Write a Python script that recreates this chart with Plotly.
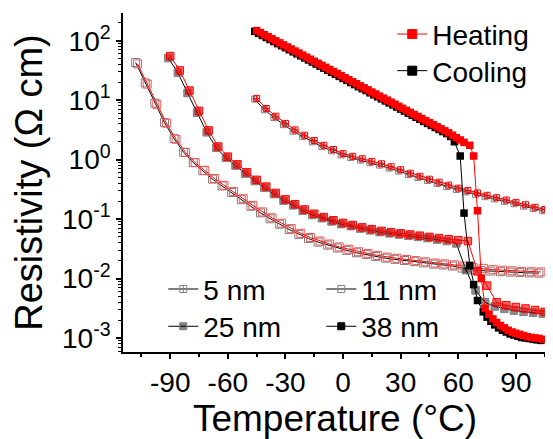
import plotly.graph_objects as go

# ---------------- data (temperature in °C, resistivity in Ω cm) ----------------
# 5 nm
T5_heat = [-45, -40, -35, -30, -25, -20, -15, -10, -5, 0, 5, 10, 15, 20, 25, 30, 35, 40, 45, 50,
           55, 60, 65, 70, 75, 80, 85, 90, 95, 100, 105]
R5_heat = [10.7, 7.24, 5.37, 4.07, 3.16, 2.57, 2.09, 1.74, 1.48, 1.26, 1.135, 1.035, 0.933, 0.851,
           0.759, 0.676, 0.589, 0.525, 0.468, 0.417, 0.372, 0.331, 0.302, 0.275, 0.251, 0.229,
           0.209, 0.191, 0.174, 0.158, 0.145]
T5_cool = [-46, -41, -36, -31, -26, -21, -16, -11, -6, -1, 4, 9, 14, 19, 24, 29, 34, 39, 44, 49,
           54, 59, 64, 69, 74, 79, 84, 89, 94, 99, 104]
R5_cool = [10.4, 6.9, 5.1, 3.87, 3.0, 2.44, 1.99, 1.65, 1.41, 1.2, 1.08, 0.98, 0.886, 0.808, 0.721,
           0.642, 0.56, 0.499, 0.445, 0.396, 0.353, 0.314, 0.287, 0.261, 0.238, 0.218, 0.199,
           0.181, 0.165, 0.150, 0.138]

# 11 nm
T11_heat = [-107, -102, -97, -92, -87, -82, -77, -72, -67, -62, -57, -52, -47, -42, -37, -32, -27,
            -22, -17, -12, -7, -2, 3, 8, 13, 18, 23, 28, 33, 38, 43, 48, 53, 58, 63, 68, 73, 78,
            83, 88, 93, 98, 103]
R11_heat = [40.7, 18.6, 8.5, 4.1, 2.2, 1.32, 0.89, 0.66, 0.48, 0.37, 0.29, 0.22, 0.17, 0.132, 0.105,
            0.085, 0.069, 0.0575, 0.049, 0.0427, 0.038, 0.034, 0.031, 0.0282, 0.0263, 0.0245,
            0.0229, 0.0219, 0.0209, 0.0200, 0.0191, 0.0182, 0.0176, 0.0170, 0.0162, 0.0151,
            0.0148, 0.0141, 0.0138, 0.0135, 0.0132, 0.0130, 0.0129]
T11_cool = [-108, -103, -98, -93, -88, -83, -78, -73, -68, -63, -58, -53, -48, -43, -38, -33, -28,
            -23, -18, -13, -8, -3, 2, 7, 12, 17, 22, 27, 32, 37, 42, 47, 52, 57, 62, 67, 72, 77,
            82, 87, 92, 97, 102]
R11_cool = [43, 19.5, 8.9, 4.2, 2.25, 1.33, 0.89, 0.65, 0.47, 0.36, 0.28, 0.212, 0.164, 0.127, 0.101,
            0.082, 0.0665, 0.0553, 0.047, 0.041, 0.0365, 0.0326, 0.0297, 0.0271, 0.0252, 0.0235,
            0.022, 0.021, 0.0201, 0.0192, 0.0183, 0.0175, 0.0169, 0.0162, 0.0150, 0.0140, 0.0136,
            0.0133, 0.0130, 0.0128, 0.0126, 0.0124, 0.0123]

# 25 nm
T25_heat = [-90, -85, -80, -75, -70, -65, -60, -55, -50, -45, -40, -35, -30, -25, -20, -15, -10,
            -5, 0, 5, 10, 15, 20, 25, 30, 35, 40, 45, 50, 55, 60, 65, 70, 75, 80, 85, 90, 95, 100,
            105]
R25_heat = [55.0, 31.6, 14.5, 6.6, 3.09, 1.66, 1.12, 0.832, 0.610, 0.457, 0.351, 0.275, 0.214,
            0.178, 0.145, 0.123, 0.108, 0.0955, 0.0861, 0.0794, 0.0724, 0.0676, 0.0631, 0.0603,
            0.0575, 0.0550, 0.0525, 0.0501, 0.0479, 0.0457, 0.0442, 0.0427, 0.0132, 0.00759,
            0.00398, 0.00355, 0.00331, 0.00313, 0.00295, 0.00275]
T25_cool = [-91, -86, -81, -76, -71, -66, -61, -56, -51, -46, -41, -36, -31, -26, -21, -16, -11,
            -6, -1, 4, 9, 14, 19, 24, 29, 34, 39, 44, 49, 54, 59, 64, 69, 74, 79, 84, 89, 94, 99,
            104]
R25_cool = [51, 28.8, 13.2, 6.17, 2.88, 1.58, 1.07, 0.794, 0.582, 0.437, 0.335, 0.263, 0.204, 0.170,
            0.138, 0.117, 0.1035, 0.0912, 0.0822, 0.0759, 0.0692, 0.0646, 0.0603, 0.0575, 0.0550,
            0.0525, 0.0501, 0.0479, 0.0452, 0.0427, 0.0389, 0.0138, 0.0063, 0.00398, 0.00339,
            0.00309, 0.00288, 0.00275, 0.00266, 0.00257]

# 38 nm
T38_heat = [-45, -43, -41, -39, -37, -35, -33, -31, -29, -27, -25, -23, -21, -19, -17, -15, -13,
            -11, -9, -7, -5, -3, -1, 1, 3, 5, 7, 9, 11, 13, 15, 17, 19, 21, 23, 25, 27, 29, 31,
            33, 35, 37, 39, 41, 43, 45, 47, 49, 51, 53, 55, 57, 59, 61, 63, 66, 68, 70, 72, 74,
            76, 78, 80, 82, 84, 86, 88, 90, 92, 94, 96, 98, 100, 102, 104]
R38_heat = [148, 137, 126, 117, 108, 99.5, 92, 85, 78.5, 72.4, 67, 62, 57.2, 52.8, 48.8, 45.1, 41.7,
            38.5, 35.6, 32.8, 30.3, 28.1, 25.9, 23.9, 22.1, 20.4, 18.9, 17.4, 16.1, 14.9, 13.7,
            12.7, 11.7, 10.8, 10.0, 9.25, 8.55, 7.89, 7.29, 6.73, 6.22, 5.75, 5.31, 4.91, 4.53,
            4.19, 3.87, 3.57, 3.30, 3.05, 2.82, 2.57, 2.34, 2.14, 1.95, 1.74, 1.15, 0.138, 0.010,
            0.00316, 0.00251, 0.00209, 0.00182, 0.00162, 0.00148, 0.00135, 0.00126, 0.00120,
            0.00115, 0.00110, 0.00105, 0.00102, 0.00100, 0.00098, 0.00095]
T38_cool = [-46, -44, -42, -40, -38, -36, -34, -32, -30, -28, -26, -24, -22, -20, -18, -16, -14,
            -12, -10, -8, -6, -4, -2, 0, 2, 4, 6, 8, 10, 12, 14, 16, 18, 20, 22, 24, 26, 28, 30,
            32, 34, 36, 38, 40, 42, 44, 46, 48, 50, 52, 54, 56, 58, 61, 63, 66, 68, 70, 73, 75,
            77, 79, 81, 83, 85, 87, 89, 91, 93, 95, 97, 99, 101, 103]
R38_cool = [143.6, 132.8, 122.5, 113.2, 104.7, 96.6, 89.3, 82.4, 76.2, 70.5, 65.0, 60.1, 55.5, 51.3,
            47.4, 43.8, 40.5, 37.3, 34.5, 31.9, 29.4, 27.2, 25.1, 23.2, 21.5, 19.8, 18.3, 16.9,
            15.6, 14.5, 13.3, 12.3, 11.4, 10.5, 9.72, 8.98, 8.30, 7.66, 7.08, 6.54, 6.04, 5.58,
            5.15, 4.76, 4.40, 4.06, 3.76, 3.47, 3.21, 2.96, 2.74, 2.45, 2.0, 1.15, 0.126, 0.0166,
            0.0079, 0.00427, 0.00275, 0.00224, 0.00191, 0.00166, 0.00148, 0.00135, 0.00126,
            0.00117, 0.00112, 0.00107, 0.00102, 0.00100, 0.00098, 0.00095, 0.00093, 0.00091]

# axis ticks
x_ticks = [-90, -60, -30, 0, 30, 60, 90]
x_ticktext = ["-90", "-60", "-30", "0", "30", "60", "90"]
x_minor = [-105, -75, -45, -15, 15, 45, 75, 105]
y_ticks = [1e-3, 1e-2, 1e-1, 1e0, 1e1, 1e2]
y_ticktext = ["10<sup>-3</sup>", "10<sup>-2</sup>", "10<sup>-1</sup>", "10<sup>0</sup>",
              "10<sup>1</sup>", "10<sup>2</sup>"]
y_minor = [m * 10.0 ** e for e in range(-4, 3) for m in range(2, 10)]

RED = "#FF0000"
BLACK = "#000000"
GRAY = "#7F7F7F"
FONT = "Liberation Sans, Arial, sans-serif"

fig = go.Figure()


def add(T, R, line_color, symbol, size, mcolor, mline, lw=1.0):
    fig.add_trace(go.Scatter(
        x=T, y=R, mode="lines+markers", showlegend=False,
        line=dict(color=line_color, width=1),
        marker=dict(symbol=symbol, size=size, color=mcolor,
                    line=dict(color=mline, width=lw)),
    ))


# cooling first, heating on top
add(T5_cool, R5_cool, BLACK, "square-cross-open", 6, GRAY, GRAY)
add(T5_heat, R5_heat, RED, "square-cross-open", 6, RED, RED)
add(T11_cool, R11_cool, BLACK, "square-open", 8, GRAY, GRAY)
add(T11_heat, R11_heat, RED, "square-open", 8, "#FF5050", "#FF5050")
add(T25_cool, R25_cool, BLACK, "square", 7.5, "rgba(0,0,0,0.45)", GRAY)
add(T25_heat, R25_heat, RED, "square", 7.5, "rgba(255,0,0,0.6)", RED)
add(T38_cool, R38_cool, BLACK, "square", 7.5, BLACK, BLACK, 0)
add(T38_heat, R38_heat, RED, "square", 7.5, RED, RED, 0)


# legend entries
def leg(name, legend, line_color, symbol, size, mcolor, mline):
    fig.add_trace(go.Scatter(
        x=[None], y=[None], mode="lines+markers", name=name, legend=legend,
        line=dict(color=line_color, width=1),
        marker=dict(symbol=symbol, size=size, color=mcolor, line=dict(color=mline, width=1)),
    ))


leg("Heating", "legend", RED, "square", 9, RED, RED)
leg("Cooling", "legend4", BLACK, "square", 9, BLACK, BLACK)
leg("5 nm", "legend2", BLACK, "square-cross-open", 7, GRAY, GRAY)
leg("11 nm", "legend2", BLACK, "square-open", 7, GRAY, GRAY)
leg("25 nm", "legend3", BLACK, "square", 7, "rgba(0,0,0,0.5)", GRAY)
leg("38 nm", "legend3", BLACK, "square", 7, BLACK, BLACK)

legend_common = dict(bgcolor="rgba(0,0,0,0)", borderwidth=0,
                     font=dict(family=FONT, size=28, color="black"),
                     xref="paper", yref="paper", tracegroupgap=0)

# The page body adds an 8 px offset; figure size/margins compensate for it.
fig.update_layout(
    width=545, height=431,
    margin=dict(l=115, r=6, t=5, b=87, autoexpand=False),
    paper_bgcolor="white", plot_bgcolor="white",
    font=dict(family=FONT, color="black"),
    legend=dict(x=0.635, y=0.937, xanchor="left", yanchor="middle", orientation="v",
                **legend_common),
    legend4=dict(x=0.635, y=0.829, xanchor="left", yanchor="middle", orientation="v",
                 **legend_common),
    legend2=dict(x=0.095, y=0.185, xanchor="left", yanchor="middle", orientation="h",
                 entrywidth=113, **legend_common),
    legend3=dict(x=0.095, y=0.075, xanchor="left", yanchor="middle", orientation="h",
                 entrywidth=113, **legend_common),
    xaxis=dict(
        range=[-114.6, 106.2], tickmode="array", tickvals=x_ticks, ticktext=x_ticktext,
        ticks="outside", ticklen=5, tickwidth=1.5, tickcolor="black",
        showline=True, linewidth=1.5, linecolor="black", mirror=False,
        showgrid=False, zeroline=False, automargin=False,
        tickfont=dict(family=FONT, size=28, color="black"),
        minor=dict(tickmode="array", tickvals=x_minor, ticks="outside", ticklen=3,
                   tickwidth=1.5, tickcolor="black", showgrid=False),
        title=dict(text="Temperature (°C)", font=dict(family=FONT, size=37, color="black"),
                   standoff=3),
    ),
    xaxis2=dict(
        overlaying="x", anchor="y", side="top", range=[-114.6, 106.2],
        tickmode="array", tickvals=x_ticks, showticklabels=False,
        ticks="inside", ticklen=6, tickwidth=1.5, tickcolor="black",
        showline=True, linewidth=1.5, linecolor="black",
        showgrid=False, zeroline=False, automargin=False,
        minor=dict(tickmode="array", tickvals=x_minor, ticks="inside", ticklen=3,
                   tickwidth=1.5, tickcolor="black", showgrid=False),
    ),
    yaxis=dict(
        type="log", range=[-3.236, 2.466], tickmode="array", tickvals=y_ticks,
        ticktext=y_ticktext, ticks="outside", ticklen=5, tickwidth=1.5, tickcolor="black",
        showline=True, linewidth=1.5, linecolor="black", mirror="ticks",
        showgrid=False, zeroline=False, automargin=False,
        tickfont=dict(family=FONT, size=28, color="black"),
        minor=dict(tickmode="array", tickvals=y_minor, ticks="outside", ticklen=3,
                   tickwidth=1, tickcolor="black", showgrid=False),
        title=dict(text="Resistivity (Ω cm)", font=dict(family=FONT, size=38, color="black"),
                   standoff=15),
    ),
)

fig.write_html("out.html")
